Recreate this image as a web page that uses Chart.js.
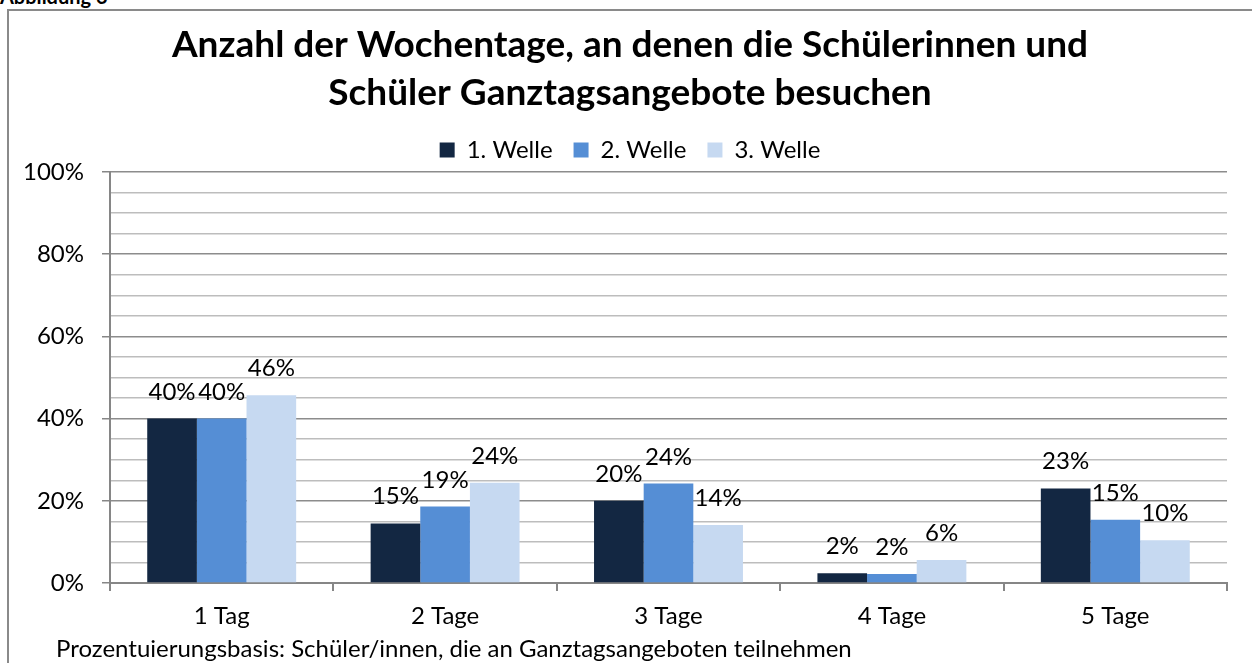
<!DOCTYPE html>
<html lang="de">
<head>
<meta charset="utf-8">
<title>Anzahl der Wochentage</title>
<script src="https://cdn.jsdelivr.net/npm/chart.js@4.4.1/dist/chart.umd.min.js"></script>
<style>
  body { margin: 0; background: #fff; }
  #wrap { position: relative; width: 1252px; height: 663px; overflow: hidden; font-family: Lato, sans-serif; }
  #chart { position: absolute; left: 0; top: 0; }
  .caption { position: absolute; left: 0; top: -16px; font-weight: bold; font-size: 20px; color: #000; }
  .frame { position: absolute; left: 7px; top: 9px; width: 1400px; height: 800px;
           border-left: 2px solid #8a8a8a; border-top: 2px solid #8a8a8a; }
  .note { position: absolute; left: 56px; top: 634px; font-size: 24px; line-height: 28px; color: #000; white-space: nowrap; }
</style>
</head>
<body>
<div id="wrap">
  <div class="caption">Abbildung 6</div>
  <div class="frame"></div>
  <canvas id="chart" width="1252" height="663"></canvas>
  <div class="note">Prozentuierungsbasis: Schüler/innen, die an Ganztagsangeboten teilnehmen</div>
</div>
<script>
const categories = ["1 Tag", "2 Tage", "3 Tage", "4 Tage", "5 Tage"];
const welle1 = [40.0, 14.5, 20.0, 2.4, 23.0];
const welle2 = [40.0, 18.6, 24.2, 2.2, 15.4];
const welle3 = [45.7, 24.4, 14.1, 5.6, 10.4];
const seriesNames = ["1. Welle", "2. Welle", "3. Welle"];
const seriesColors = ["#132742", "#558ed5", "#c6d9f1"];
const titleLines = [
  "Anzahl der Wochentage, an denen die Schülerinnen und",
  "Schüler Ganztagsangebote besuchen"
];

// werte ueber den balken
const barLabels = {
  id: "barLabels",
  afterLayout(chart) {
    // y-labels nicht am linken rand der achse abschneiden
    chart.scales.y.left = 0;
  },
  afterDatasetsDraw(chart) {
    const ctx = chart.ctx;
    ctx.save();
    ctx.font = "24px Lato";
    ctx.fillStyle = "#000";
    ctx.textAlign = "center";
    ctx.textBaseline = "alphabetic";
    chart.data.datasets.forEach((ds, i) => {
      chart.getDatasetMeta(i).data.forEach((bar, j) => {
        ctx.fillText(Math.round(ds.data[j]) + "%", bar.x, bar.y - 19);
      });
    });
    ctx.restore();
  }
};

const isMajor = (v) => v % 20 === 0;

new Chart(document.getElementById("chart"), {
  type: "bar",
  data: {
    labels: categories,
    datasets: [welle1, welle2, welle3].map((d, i) => ({
      label: seriesNames[i],
      data: d,
      backgroundColor: seriesColors[i],
      borderWidth: 0,
      categoryPercentage: 3 / 4.5,
      barPercentage: 1
    }))
  },
  options: {
    responsive: false,
    animation: false,
    layout: { padding: { left: 33, right: 25, top: 4, bottom: 30 } },
    plugins: {
      title: {
        display: true,
        text: titleLines,
        color: "#000",
        font: { family: "Lato", size: 37, weight: "bold", lineHeight: 48 / 37 },
        padding: { top: 9, bottom: 0 }
      },
      legend: {
        display: true,
        labels: {
          boxWidth: 15,
          boxHeight: 15,
          padding: 21,
          color: "#000",
          font: { family: "Lato", size: 24 }
        }
      },
      tooltip: { enabled: false }
    },
    scales: {
      x: {
        grid: {
          drawOnChartArea: false,
          drawTicks: true,
          tickLength: 8,
          color: "#868686",
          lineWidth: 2
        },
        border: { display: true, color: "#868686", width: 2 },
        ticks: { color: "#000", padding: 11, font: { family: "Lato", size: 24 } },
        afterFit(scale) { scale.height = 50; }
      },
      y: {
        min: 0,
        max: 100,
        ticks: {
          stepSize: 5,
          autoSkip: false,
          color: "#000",
          padding: 18,
          font: { family: "Lato", size: 24 },
          callback: (v) => (isMajor(v) ? v + "%" : "")
        },
        grid: {
          color: (c) => (isMajor(c.tick.value) ? "#8c8c8c" : "#bdbdbd"),
          tickColor: (c) => (isMajor(c.tick.value) ? "#868686" : "rgba(0,0,0,0)"),
          lineWidth: 1.5,
          tickLength: 8
        },
        border: { display: true, color: "#868686", width: 2 },
        afterFit(scale) {
          scale.width = 77;
          scale.paddingTop = 172;
        }
      }
    }
  },
  plugins: [barLabels]
});
</script>
</body>
</html>
